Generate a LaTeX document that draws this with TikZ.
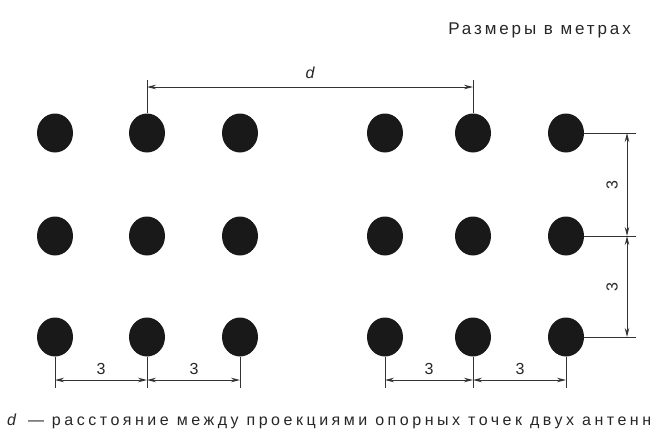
\documentclass[tikz,border=0pt]{standalone}
\usepackage{fontspec}
\setmainfont{Liberation Sans}
\usetikzlibrary{shapes.geometric,arrows.meta}
\begin{document}
\begin{tikzpicture}[x=1pt,y=-1pt,
  dot/.style={ellipse,fill=black!90,minimum width=36pt,minimum height=39pt,inner sep=0pt},
  ext/.style={draw=black!80,line width=0.9pt},
  dim/.style={draw=black!80,line width=0.9pt,{Stealth[length=9pt,width=4.5pt]}-{Stealth[length=9pt,width=4.5pt]}},
  lbl/.style={font=\fontsize{16}{18}\selectfont,text=black!85,inner sep=1pt}]
\useasboundingbox (0,0) rectangle (672,436);
% dots
\foreach \c/\x in {1/55,2/147,3/240,4/385,5/473,6/566}{
  \foreach \r/\y in {1/133,2/236,3/337}{
    \node[dot] (p\r\c) at (\x,\y) {};
  }
}
% top dimension d
\coordinate (ta) at (147,80);
\coordinate (tb) at (473,80);
\draw[ext] (p12.north) -- (ta);
\draw[ext] (p15.north) -- (tb);
\coordinate (da) at (147,87);
\coordinate (db) at (473,87);
\draw[dim] (da) -- (db);
\node[lbl,font=\fontsize{16}{18}\selectfont\itshape] (dl) at (310,73) {d};
% right dimensions
\foreach \r/\y in {1/133,2/236,3/337}{
  \coordinate (re\r) at (636,\y);
  \draw[ext] (p\r6.east) -- (re\r);
  \coordinate (rd\r) at (627,\y);
}
\draw[dim] (rd1) -- (rd2);
\draw[dim] (rd2) -- (rd3);
\node[lbl,rotate=90] (r1) at (612,185) {3};
\node[lbl,rotate=90] (r2) at (612,287) {3};
% bottom dimensions
\foreach \c/\x in {1/55,2/147,3/240,4/385,5/473,6/566}{
  \coordinate (be\c) at (\x,388);
  \draw[ext] (p3\c.south) -- (be\c);
  \coordinate (bd\c) at (\x,380);
}
\draw[dim] (bd1) -- (bd2);
\draw[dim] (bd2) -- (bd3);
\draw[dim] (bd4) -- (bd5);
\draw[dim] (bd5) -- (bd6);
\node[lbl] (b1) at (101,369) {3};
\node[lbl] (b2) at (194,369) {3};
\node[lbl] (b3) at (429,369) {3};
\node[lbl] (b4) at (520,369) {3};
% texts
\node[lbl,anchor=east,font=\fontsize{17}{19}\selectfont\addfontfeature{LetterSpace=17}] (units) at (632,30) {Размеры в метрах};
\node[lbl,anchor=west,font=\fontsize{16}{18}\selectfont\addfontfeature{LetterSpace=22}] (cap) at (6,421) {\textit{d} — расстояние между проекциями опорных точек двух антенн};
\end{tikzpicture}
\end{document}
